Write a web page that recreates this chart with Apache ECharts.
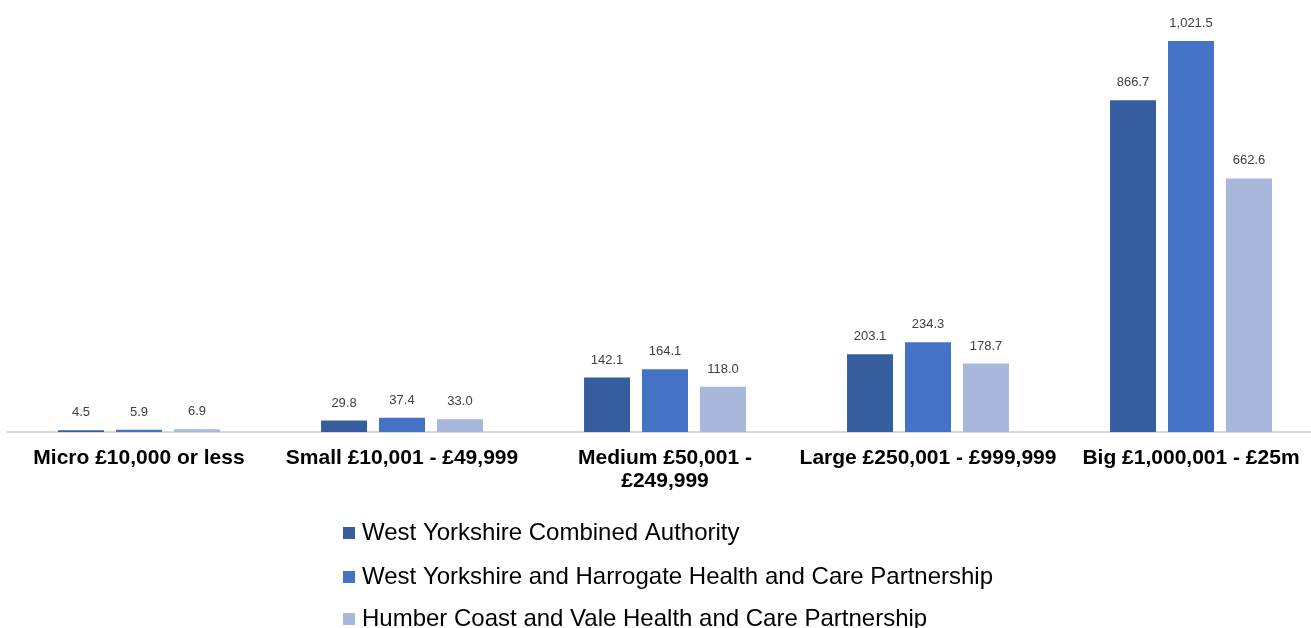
<!DOCTYPE html>
<html>
<head>
<meta charset="utf-8">
<script src="https://cdn.jsdelivr.net/npm/echarts@6/dist/echarts.min.js"></script>
<style>
  html, body { margin: 0; padding: 0; background: #fff; }
  #chart { width: 1311px; height: 628px; }
</style>
</head>
<body>
<div id="chart"></div>
<script>
const categories = [
  "Micro £10,000 or less",
  "Small £10,001 - £49,999",
  "Medium £50,001 -\n£249,999",
  "Large £250,001 - £999,999",
  "Big £1,000,001 - £25m"
];
const seriesNames = [
  "West Yorkshire Combined Authority",
  "West Yorkshire and Harrogate Health and Care Partnership",
  "Humber Coast and Vale Health and Care Partnership"
];
const wyca = [4.5, 29.8, 142.1, 203.1, 866.7];
const wyh = [5.9, 37.4, 164.1, 234.3, 1021.5];
const hcv = [6.9, 33.0, 118.0, 178.7, 662.6];
const colors = ["#365E9F", "#4472C4", "#A8B7DA"];

const fmt = (p) => p.value.toLocaleString("en-GB", { minimumFractionDigits: 1, maximumFractionDigits: 1 });

const chart = echarts.init(document.getElementById("chart"));
const seriesData = [wyca, wyh, hcv];
const legendTops = [521, 565, 607];

chart.setOption({
  animation: false,
  textStyle: { fontFamily: "Liberation Sans, Arial, sans-serif" },
  grid: { left: 7.5, width: 1315, top: 11, bottom: 196, outerBoundsMode: "none" },
  legend: seriesNames.map((n, i) => ({
    orient: "vertical",
    left: 343,
    top: legendTops[i],
    padding: 0,
    itemWidth: 12,
    itemHeight: 12,
    itemGap: 6,
    icon: "rect",
    textStyle: { fontSize: 24, color: "#000", fontFamily: "Liberation Sans, Arial, sans-serif", padding: [0, 0, 0, 2] },
    data: [n]
  })),
  xAxis: {
    type: "category",
    data: categories,
    axisLine: { lineStyle: { color: "#d9d9d9", width: 2 } },
    axisTick: { show: false },
    axisLabel: {
      interval: 0,
      margin: 15,
      color: "#000",
      fontSize: 21,
      fontWeight: "bold",
      lineHeight: 23
    }
  },
  yAxis: {
    type: "value",
    min: 0,
    max: 1100,
    show: false,
    splitLine: { show: false }
  },
  series: seriesData.map((d, i) => ({
    name: seriesNames[i],
    type: "bar",
    data: d,
    barWidth: 46,
    barGap: "26%",
    itemStyle: { color: colors[i] },
    label: {
      show: true,
      position: "top",
      distance: 11,
      fontSize: 13,
      color: "#404040",
      formatter: fmt
    }
  }))
});
</script>
</body>
</html>
